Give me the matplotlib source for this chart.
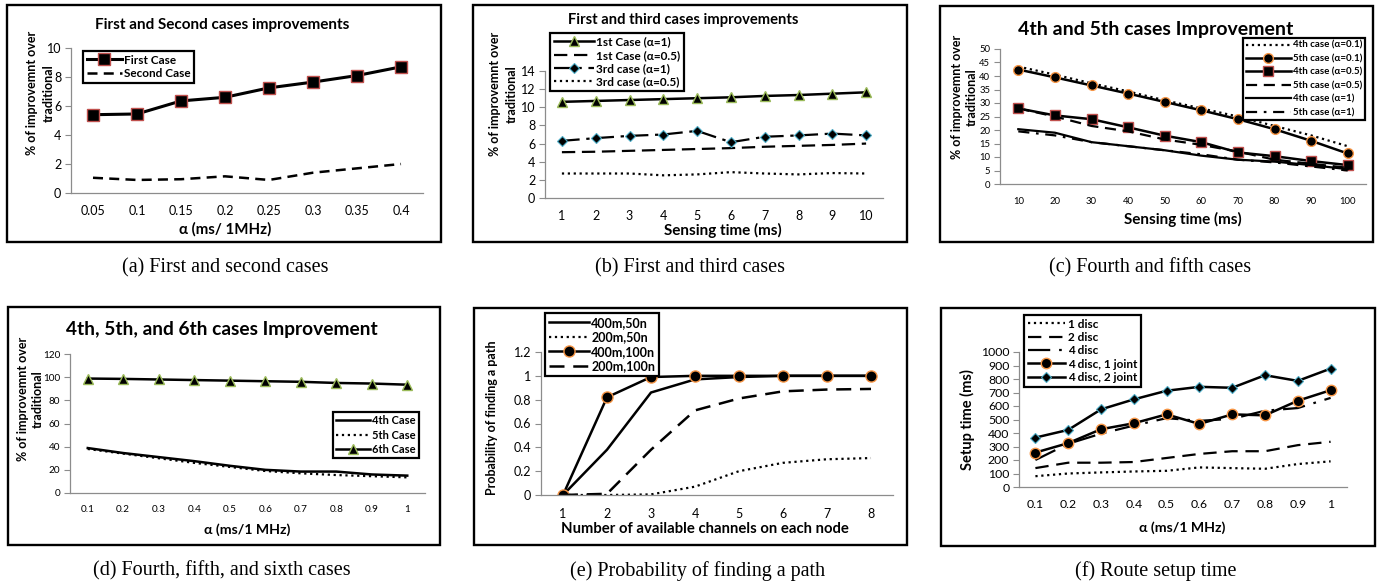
import matplotlib
matplotlib.use("Agg")
import matplotlib.pyplot as plt
from matplotlib.patches import Rectangle
from matplotlib.ticker import FormatStrFormatter

W, H = 1379, 585
SANS = ['Lato', 'DejaVu Sans']
SERIF = ['Liberation Serif', 'DejaVu Serif']

RED = '#c0504d'
GREEN = '#9bbb59'
BLUE = '#4bacc6'
ORANGE = '#f79646'

# (a) first and second cases
a_x = ['0.05', '0.1', '0.15', '0.2', '0.25', '0.3', '0.35', '0.4']
a_first = [5.4, 5.45, 6.35, 6.6, 7.25, 7.65, 8.1, 8.7]
a_second = [1.05, 0.9, 0.95, 1.15, 0.9, 1.4, 1.7, 2.0]

# (b) first and third cases
b_x = ['1', '2', '3', '4', '5', '6', '7', '8', '9', '10']
b_first_a1 = [10.6, 10.7, 10.8, 10.9, 11.0, 11.1, 11.25, 11.35, 11.5, 11.65]
b_first_a05 = [5.05, 5.1, 5.2, 5.3, 5.4, 5.5, 5.65, 5.75, 5.85, 6.0]
b_third_a1 = [6.3, 6.6, 6.85, 7.0, 7.4, 6.15, 6.75, 6.9, 7.1, 6.9]
b_third_a05 = [2.7, 2.7, 2.7, 2.5, 2.6, 2.85, 2.7, 2.6, 2.75, 2.7]

# (c) 4th and 5th cases
c_x = ['10', '20', '30', '40', '50', '60', '70', '80', '90', '100']
c_4th_01 = [43.5, 40.5, 37.3, 34.3, 31.0, 28.0, 25.0, 21.5, 18.0, 14.0]
c_5th_01 = [42.4, 39.5, 36.5, 33.5, 30.4, 27.3, 24.0, 20.3, 16.0, 11.3]
c_4th_05 = [28.0, 25.4, 24.0, 21.0, 17.9, 15.5, 11.7, 10.3, 8.5, 7.0]
c_5th_05 = [28.0, 25.0, 21.5, 19.5, 16.5, 14.5, 12.0, 9.0, 7.5, 6.0]
c_4th_1 = [20.3, 19.0, 15.5, 14.0, 12.5, 10.5, 9.0, 8.3, 7.0, 5.5]
c_5th_1 = [19.5, 18.0, 15.5, 14.0, 12.5, 11.0, 9.0, 8.0, 6.5, 5.0]

# (d) 4th, 5th and 6th cases
d_x = ['0.1', '0.2', '0.3', '0.4', '0.5', '0.6', '0.7', '0.8', '0.9', '1']
d_4th = [38.8, 34.5, 31.0, 27.5, 23.5, 20.0, 18.5, 18.5, 16.0, 15.0]
d_5th = [38.0, 34.0, 30.0, 26.0, 22.5, 19.0, 17.0, 15.5, 14.5, 13.5]
d_6th = [98.8, 98.5, 98.0, 97.5, 97.0, 96.5, 96.0, 95.0, 94.5, 93.5]

# (e) probability of finding a path
e_x = ['1', '2', '3', '4', '5', '6', '7', '8']
e_400_50 = [0.0, 0.38, 0.86, 0.97, 0.99, 1.0, 1.0, 1.0]
e_200_50 = [0.0, 0.0, 0.005, 0.07, 0.2, 0.27, 0.3, 0.31]
e_400_100 = [0.0, 0.82, 0.99, 1.0, 1.0, 1.0, 1.0, 1.0]
e_200_100 = [0.0, 0.01, 0.38, 0.71, 0.81, 0.87, 0.885, 0.89]

# (f) route setup time
f_x = ['0.1', '0.2', '0.3', '0.4', '0.5', '0.6', '0.7', '0.8', '0.9', '1']
f_1disc = [80, 100, 108, 115, 120, 145, 140, 135, 170, 190]
f_2disc = [140, 180, 180, 185, 215, 245, 265, 265, 310, 335]
f_4disc = [200, 320, 395, 455, 510, 490, 505, 565, 585, 660]
f_4disc_1j = [255, 325, 428, 472, 538, 467, 538, 531, 639, 717]
f_4disc_2j = [366, 423, 575, 649, 713, 742, 735, 828, 786, 877]

fig = plt.figure(figsize=(W / 100, H / 100), dpi=100)


def px_axes(l, t, r, b):
    return fig.add_axes([l / W, 1 - b / H, (r - l) / W, (b - t) / H])


def box(l, t, r, b):
    fig.patches.append(Rectangle((l / W, 1 - b / H), (r - l) / W, (b - t) / H,
                                 transform=fig.transFigure, fill=False,
                                 lw=1.7, ec='black'))


def ftext(x, y, s, size, bold=True, rot=0, family=SANS):
    fig.text(x / W, 1 - y / H, s, ha='center', va='center', fontsize=size,
             fontweight='bold' if bold else 'normal', rotation=rot,
             family=family, linespacing=1.0)


def ylab2(x1, x2, y, size=9):
    # two-line rotated y label, one text per line
    ftext(x1, y, '% of improvemnt over', size, rot=90)
    ftext(x2, y, 'traditional', size, rot=90)


def style(ax, labels, ylim, yticks, fs, fmt=None):
    ax.set_xlim(-0.5, len(labels) - 0.5)
    ax.set_ylim(*ylim)
    ax.set_xticks(range(len(labels)), labels)
    ax.set_yticks(yticks)
    if fmt:
        ax.yaxis.set_major_formatter(FormatStrFormatter(fmt))
    for s in ['top', 'right']:
        ax.spines[s].set_visible(False)
    for s in ['left', 'bottom']:
        ax.spines[s].set_color('#8c8c8c')
        ax.spines[s].set_linewidth(0.9)
    ax.tick_params(axis='x', length=0, pad=9, labelsize=fs)
    ax.tick_params(axis='y', length=4, color='#8c8c8c', pad=3, labelsize=fs)
    for t in ax.get_xticklabels() + ax.get_yticklabels():
        t.set_family(SANS)
    ax.patch.set_alpha(0)


def legend(ax, l, t, fs, hl=3.2, ls=0.25):
    lg = ax.legend(loc='upper left', bbox_to_anchor=(l / W, 1 - t / H),
                   bbox_transform=fig.transFigure, borderaxespad=0,
                   fancybox=False, framealpha=1, edgecolor='black',
                   prop={'family': SANS, 'weight': 'bold', 'size': fs},
                   handlelength=hl, handletextpad=0.2, labelspacing=ls,
                   borderpad=0.3)
    lg.get_frame().set_linewidth(1.6)
    return lg


xs = lambda v: range(len(v))

# ---------------- (a)
box(7, 5, 441, 242)
ax = px_axes(71, 48, 423, 193)
ax.plot(xs(a_first), a_first, '-s', color='black', lw=2.2, ms=9, mfc='black',
        mec=RED, mew=1, label='First Case')
ax.plot(xs(a_second), a_second, '--', color='black', lw=1.8, dashes=(4, 2.5),
        label='Second Case')
style(ax, a_x, (0, 10), range(0, 11, 2), 9)
legend(ax, 83, 51, 8.5, hl=3.0)
ftext(222, 25, 'First and Second cases improvements', 11)
ftext(225, 229, 'α (ms/ 1MHz)', 10.8)
ylab2(32, 49, 93)

# ---------------- (b)
box(473, 5, 907, 242)
ax = px_axes(545, 71, 883, 198)
ax.plot(xs(b_first_a1), b_first_a1, '-^', color='black', lw=1.8, ms=7,
        mfc='black', mec=GREEN, mew=1, label='1st Case (α=1)')
ax.plot(xs(b_first_a05), b_first_a05, '--', color='black', lw=1.6,
        dashes=(6, 3), label='1st Case (α=0.5)')
ax.plot(xs(b_third_a1), b_third_a1, '-.D', color='black', lw=1.6, ms=5.5,
        mfc='black', mec=BLUE, mew=0.8, dashes=(8, 3, 1.5, 3),
        label='3rd case (α=1)')
ax.plot(xs(b_third_a05), b_third_a05, ':', color='black', lw=1.6,
        label='3rd case (α=0.5)')
style(ax, b_x, (0, 14), range(0, 15, 2), 9)
legend(ax, 550, 33, 8.5, hl=3.4, ls=0.2)
ftext(683, 20, 'First and third cases improvements', 10.6)
ftext(723, 230, 'Sensing time (ms)', 11)
ylab2(495, 512, 94)

# ---------------- (c)
box(940, 6, 1373, 242)
ax = px_axes(1000, 49, 1366, 184)
ax.plot(xs(c_4th_01), c_4th_01, ':', color='black', lw=1.6,
        label='4th case (α=0.1)')
ax.plot(xs(c_5th_01), c_5th_01, '-o', color='black', lw=1.8, ms=7,
        mfc='black', mec=ORANGE, mew=1, label='5th case (α=0.1)')
ax.plot(xs(c_4th_05), c_4th_05, '-s', color='black', lw=1.8, ms=7,
        mfc='black', mec=RED, mew=1, label='4th case (α=0.5)')
ax.plot(xs(c_5th_05), c_5th_05, '--', color='black', lw=1.6, dashes=(5, 3),
        label='5th case (α=0.5)')
ax.plot(xs(c_4th_1), c_4th_1, '-', color='black', lw=1.6,
        label='4th case (α=1)')
ax.plot(xs(c_5th_1), c_5th_1, '-.', color='black', lw=1.6,
        dashes=(5, 3, 1.2, 3), label='5th case (α=1)')
style(ax, c_x, (0, 50), range(0, 51, 5), 6.8)
legend(ax, 1243, 38, 7, hl=4.6, ls=0.45)
ftext(1156, 30, '4th and 5th cases Improvement', 14)
ftext(1183, 219, 'Sensing time (ms)', 11)
ylab2(957, 972, 97)

# ---------------- (d)
box(8, 307, 440, 545)
ax = px_axes(70, 354, 425, 493)
ax.plot(xs(d_4th), d_4th, '-', color='black', lw=1.8, label='4th Case')
ax.plot(xs(d_5th), d_5th, ':', color='black', lw=1.6, label='5th Case')
ax.plot(xs(d_6th), d_6th, '-^', color='black', lw=1.8, ms=7, mfc='black',
        mec=GREEN, mew=1, label='6th Case')
style(ax, d_x, (0, 120), range(0, 121, 20), 7.2)
legend(ax, 333, 412, 8, hl=3.0, ls=0.3)
ftext(222, 330, '4th, 5th, and 6th cases Improvement', 13.8)
ftext(247, 530, 'α (ms/1 MHz)', 10.2)
ylab2(23, 38, 399)

# ---------------- (e)
box(474, 308, 907, 545)
ax = px_axes(541, 352, 893, 495)
ax.plot(xs(e_400_50), e_400_50, '-', color='black', lw=1.8, label='400m,50n')
ax.plot(xs(e_200_50), e_200_50, ':', color='black', lw=1.6, label='200m,50n')
ax.plot(xs(e_400_100), e_400_100, '-o', color='black', lw=1.8, ms=8,
        mfc='black', mec=ORANGE, mew=1, label='400m,100n')
ax.plot(xs(e_200_100), e_200_100, '--', color='black', lw=1.8, dashes=(6, 3.5),
        label='200m,100n')
style(ax, e_x, (0, 1.2), [0, 0.2, 0.4, 0.6, 0.8, 1.0, 1.2], 9, fmt='%g')
legend(ax, 545, 313, 9, hl=3.2, ls=0.2)
ftext(705, 529, 'Number of available channels on each node', 10.7)
ftext(492, 418, 'Probability of finding a path', 9, rot=90)

# ---------------- (f)
box(941, 308, 1375, 546)
ax = px_axes(1019, 352, 1347, 487)
ax.plot(xs(f_1disc), f_1disc, ':', color='black', lw=1.6, label='1 disc')
ax.plot(xs(f_2disc), f_2disc, '--', color='black', lw=1.6, dashes=(6, 3.5),
        label='2 disc')
ax.plot(xs(f_4disc), f_4disc, '-.', color='black', lw=1.6,
        dashes=(10, 4, 1.2, 4), label='4 disc')
ax.plot(xs(f_4disc_1j), f_4disc_1j, '-o', color='black', lw=1.8, ms=7.5,
        mfc='black', mec=ORANGE, mew=1, label='4 disc, 1 joint')
ax.plot(xs(f_4disc_2j), f_4disc_2j, '-D', color='black', lw=1.8, ms=5,
        mfc='black', mec=BLUE, mew=0.8, label='4 disc, 2 joint')
style(ax, f_x, (0, 1000), range(0, 1001, 100), 8.8)
legend(ax, 1024, 315, 8.5, hl=3.2, ls=0.2)
ftext(1182, 528, 'α (ms/1 MHz)', 10.2)
ftext(967, 420, 'Setup time (ms)', 10.5, rot=90)

# captions
ftext(225, 268, '(a) First and second cases', 14.5, bold=False, family=SERIF)
ftext(690, 268, '(b) First and third cases', 14.5, bold=False, family=SERIF)
ftext(1150, 268, '(c) Fourth and fifth cases', 14.5, bold=False, family=SERIF)
ftext(222, 571, '(d) Fourth, fifth, and sixth cases', 14.5, bold=False, family=SERIF)
ftext(698, 571, '(e) Probability of finding a path', 14.5, bold=False, family=SERIF)
ftext(1156, 571, '(f) Route setup time', 14.5, bold=False, family=SERIF)

fig.savefig('out.png', dpi=100)
